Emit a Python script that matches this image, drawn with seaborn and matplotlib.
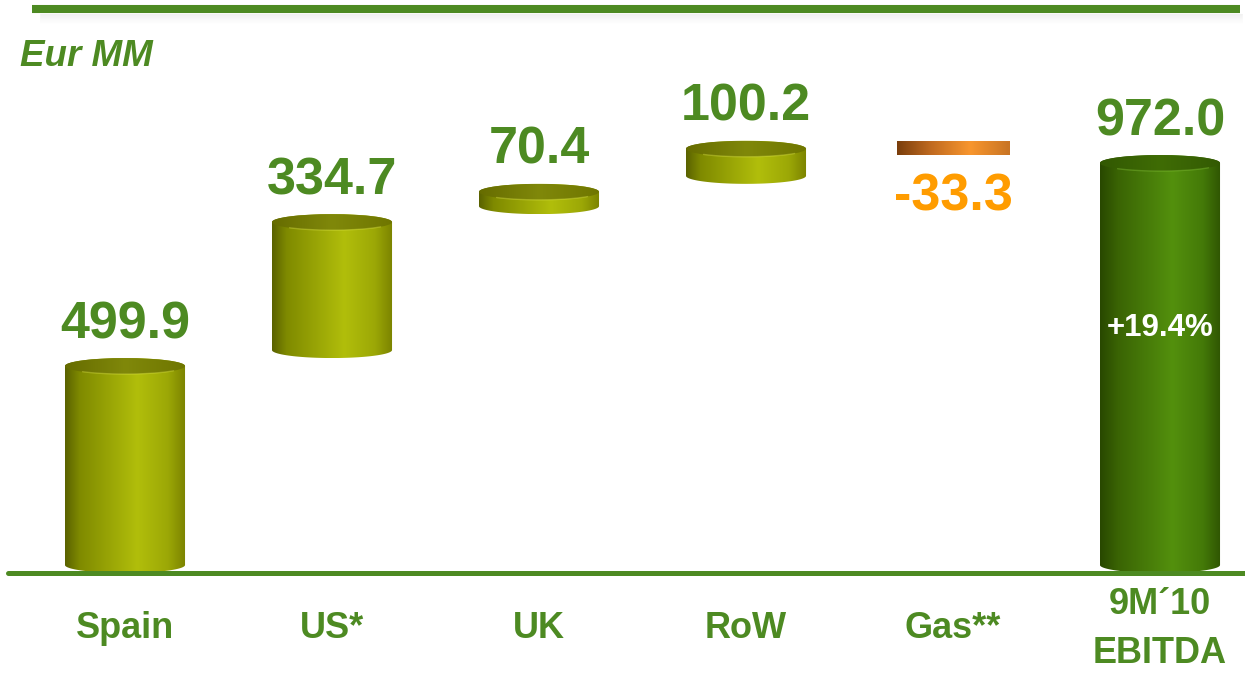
import numpy as np
import matplotlib
matplotlib.use("Agg")
import matplotlib.pyplot as plt
from matplotlib.colors import LinearSegmentedColormap
from matplotlib.patches import PathPatch, Ellipse, Rectangle
from matplotlib.path import Path
from matplotlib.lines import Line2D
import seaborn as sns

# ---- data -------------------------------------------------------------
categories = ["Spain", "US*", "UK", "RoW", "Gas**", "9M´10\nEBITDA"]
changes = [499.9, 334.7, 70.4, 100.2, -33.3]
total = 972.0
growth_label = "+19.4%"
unit_label = "Eur MM"

# waterfall: each step starts where the previous one ended
starts = np.concatenate([[0.0], np.cumsum(changes)[:-1]])
bottoms = list(starts) + [0.0]
spans = list(changes) + [total]

# ---- style ------------------------------------------------------------
GREEN = "#4d8a22"
ORANGE = "#ff9c00"
FONT = ["Liberation Sans", "DejaVu Sans"]
sns.set_style("white")
plt.rcParams["font.family"] = FONT

W, H, DPI = 1245, 676, 100
BASE_PX = 573          # baseline, pixels from top
PX_PER_UNIT = 0.43     # vertical scale
X0_PX, STEP_PX = 125, 207

olive_body = LinearSegmentedColormap.from_list(
    "olive_body", [(0, "#5a6200"), (0.12, "#7f8a00"), (0.6, "#b1be0b"),
                   (0.85, "#9ca806"), (1, "#7b8300")])
olive_top = LinearSegmentedColormap.from_list(
    "olive_top", [(0, "#666c00"), (0.5, "#80880a"), (1, "#6f7600")])
green_body = LinearSegmentedColormap.from_list(
    "green_body", [(0, "#284800"), (0.15, "#3a6404"), (0.6, "#53900d"),
                   (0.85, "#447a08"), (1, "#2f5502")])
green_top = LinearSegmentedColormap.from_list(
    "green_top", [(0, "#325802"), (0.5, "#3f6c05"), (1, "#335a03")])
orange_bar = LinearSegmentedColormap.from_list(
    "orange_bar", [(0, "#7a3e0c"), (0.3, "#c06a20"), (0.65, "#f8962e"),
                   (1, "#c87424")])

grad = np.linspace(0, 1, 256).reshape(1, -1)

fig = plt.figure(figsize=(W / DPI, H / DPI), dpi=DPI)
ax = fig.add_axes([0, 0, 1, 1])

# bars drawn by seaborn; their geometry is reused for the shaded cylinders
sns.barplot(x=categories, y=spans, bottom=bottoms, width=0.58,
            color="#9aa800", ax=ax)

ry = 8 / PX_PER_UNIT  # vertical radius of the elliptical caps


def cylinder(x0, w, y0, y1, body_cmap, top_cmap, rim):
    xc, rx = x0 + w / 2, w / 2
    t_bot = np.linspace(np.pi, 2 * np.pi, 80)
    t_top = np.linspace(0, np.pi, 80)
    verts = np.vstack([
        np.column_stack([xc + rx * np.cos(t_bot), y0 + ry + ry * np.sin(t_bot)]),
        np.column_stack([xc + rx * np.cos(t_top), y1 - ry + ry * np.sin(t_top)]),
    ])
    body = PathPatch(Path(np.vstack([verts, verts[:1]]), closed=True),
                     facecolor="none", edgecolor="none")
    ax.add_patch(body)
    im = ax.imshow(grad, extent=(x0, x0 + w, y0, y1), aspect="auto",
                   cmap=body_cmap, zorder=2, interpolation="bilinear")
    im.set_clip_path(body)
    cap = Ellipse((xc, y1 - ry), w, 2 * ry, facecolor="none", edgecolor="none")
    ax.add_patch(cap)
    im2 = ax.imshow(grad, extent=(x0, x0 + w, y1 - 2 * ry, y1), aspect="auto",
                    cmap=top_cmap, zorder=3, interpolation="bilinear")
    im2.set_clip_path(cap)
    # soft highlight along the front edge of the cap
    t_rim = np.linspace(1.25 * np.pi, 1.8 * np.pi, 60)
    ax.plot(xc + rx * np.cos(t_rim), y1 - ry + ry * np.sin(t_rim),
            color=rim, lw=1.0, alpha=0.35, zorder=4, solid_capstyle="round")


for i, patch in enumerate(list(ax.patches)):
    x0, w = patch.get_x(), patch.get_width()
    lo = min(patch.get_y(), patch.get_y() + patch.get_height())
    hi = max(patch.get_y(), patch.get_y() + patch.get_height())
    patch.set_visible(False)
    value = spans[i]
    xc = x0 + w / 2
    if i == len(spans) - 1:
        cylinder(x0, w, lo, hi, green_body, green_top, "#8fcf40")
        ax.annotate(f"{value:.1f}", (xc, hi), xytext=(0, 14.4),
                    textcoords="offset points", ha="center", va="baseline",
                    fontsize=37.5, fontweight="bold", color=GREEN, zorder=5)
        ax.text(xc, hi * 0.585, growth_label, ha="center", va="center",
                fontsize=22.5, fontweight="bold", color="white", zorder=5)
    elif value < 0:
        w2 = w * 0.94
        x2 = xc - w2 / 2
        rect = Rectangle((x2, lo), w2, hi - lo, facecolor="none", edgecolor="none")
        ax.add_patch(rect)
        im = ax.imshow(grad, extent=(x2, x2 + w2, lo, hi), aspect="auto",
                       cmap=orange_bar, zorder=2, interpolation="bilinear")
        im.set_clip_path(rect)
        ax.annotate(f"{value:.1f}", (xc, lo), xytext=(0, -40),
                    textcoords="offset points", ha="center", va="baseline",
                    fontsize=37.5, fontweight="bold", color=ORANGE, zorder=5)
    else:
        cylinder(x0, w, lo, hi, olive_body, olive_top, "#e4ec50")
        ax.annotate(f"{value:.1f}", (xc, hi), xytext=(0, 14.4),
                    textcoords="offset points", ha="center", va="baseline",
                    fontsize=37.5, fontweight="bold", color=GREEN, zorder=5)

# category names under the baseline
y_cat = -(629 - BASE_PX) / PX_PER_UNIT
for i, name in enumerate(categories):
    ax.text(i, y_cat, name, ha="center", va="center", fontsize=26,
            fontweight="bold", color=GREEN, linespacing=1.55)

# baseline
ax.axhline(0, xmin=8 / W, xmax=1, color=GREEN, lw=3.6, zorder=6)

ax.set_xlim(-X0_PX / STEP_PX, (W - X0_PX) / STEP_PX)
ax.set_ylim(-(H - BASE_PX) / PX_PER_UNIT, BASE_PX / PX_PER_UNIT)
ax.axis("off")

# header rule with a soft shadow underneath
for k in range(10):
    yk = 1 - (14 + k) / H
    fig.add_artist(Line2D([40 / W, 1242 / W], [yk, yk], color="black",
                          lw=0.8, alpha=0.05 * (1 - k / 10)))
fig.add_artist(Line2D([32 / W, 1240 / W], [1 - 8.5 / H] * 2, color=GREEN,
                      lw=5.8, solid_capstyle="butt"))

fig.text(20 / W, 1 - 57 / H, unit_label, ha="left", va="center", fontsize=26.5,
         fontweight="bold", style="italic", color=GREEN)

fig.savefig("out.png", dpi=DPI, facecolor="white")
